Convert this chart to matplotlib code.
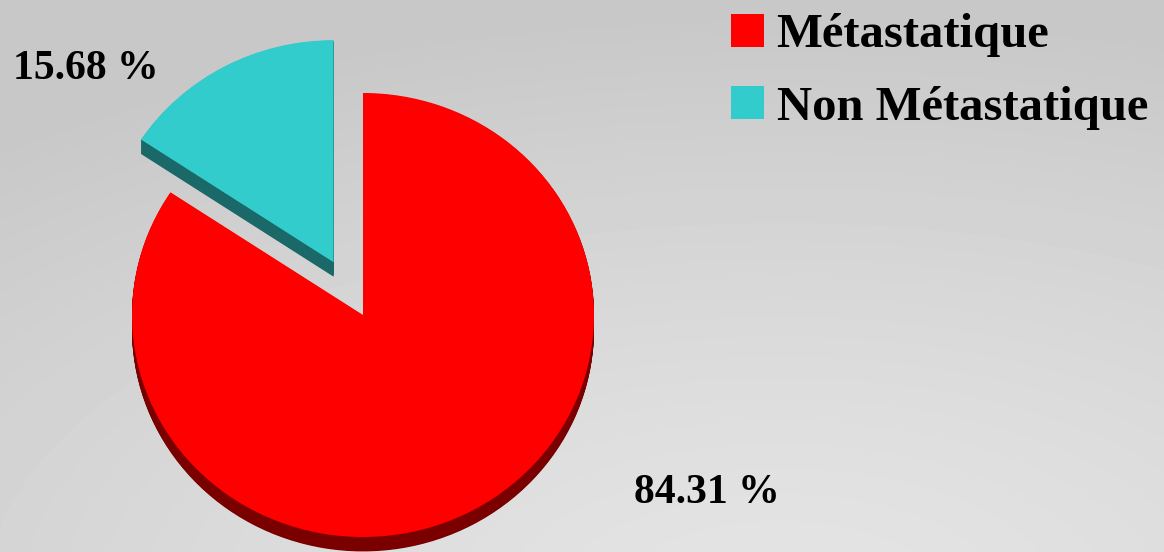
import matplotlib.pyplot as plt
import numpy as np

labels = ['Métastatique', 'Non Métastatique']
values = [84.31, 15.68]
top_colors = ['#ff0000', '#33cccc']
side_colors = ['#7a0000', '#1b6868']
explode = [0, 0.27]

W, H = 1164, 552
cx, cy = 363, 315      # pie centre in pixels
rx, ry = 231, 222      # radius in pixels (slightly squashed)
depth = 0.065          # thickness of the disc, in radius units

plt.rcParams['font.family'] = ['Liberation Serif', 'DejaVu Serif']
plt.rcParams['font.weight'] = 'bold'

fig = plt.figure(figsize=(W / 100, H / 100), dpi=100)

# soft radial grey background
bg = fig.add_axes([0, 0, 1, 1])
yy, xx = np.mgrid[0:H, 0:W]
dist = np.hypot((xx - 780) / W, (yy - 600) / H)
shade = 0.895 - 0.11 * np.clip(dist / 1.05, 0, 1) ** 1.3
bg.imshow(shade, cmap='gray', vmin=0, vmax=1, aspect='auto',
          extent=(0, W, H, 0))
bg.axis('off')

ax = fig.add_axes([0, 0, 1, 1])
ax.patch.set_alpha(0)

# stacked layers for the side of the disc
for k in np.linspace(-depth, 0, 24)[:-1]:
    ax.pie(values, colors=side_colors, explode=explode, startangle=90,
           counterclock=False, center=(0, k), radius=1,
           wedgeprops=dict(linewidth=0))

wedges, _ = ax.pie(values, colors=top_colors, explode=explode, startangle=90,
                   counterclock=False, center=(0, 0), radius=1,
                   wedgeprops=dict(linewidth=0))

ax.set_aspect('auto')
ax.set_xlim(-cx / rx, (W - cx) / rx)
ax.set_ylim(-(H - cy) / ry, cy / ry)
ax.axis('off')

# percentage labels
label_pos = [(707, 493), (86, 69)]
for v, (px, py) in zip(values, label_pos):
    ax.text((px - cx) / rx, (cy - py) / ry, f'{v:.2f} %', fontsize=30,
            fontweight='bold', ha='center', va='center', color='black')

fig.legend(wedges, labels, loc='upper left', bbox_to_anchor=(707 / W, 1 + 11 / H),
           frameon=False, handlelength=0.68, handleheight=0.68,
           handletextpad=0.25, labelspacing=0.58, borderpad=0,
           prop=dict(weight='bold', size=35))

fig.savefig('out.png', dpi=100)
